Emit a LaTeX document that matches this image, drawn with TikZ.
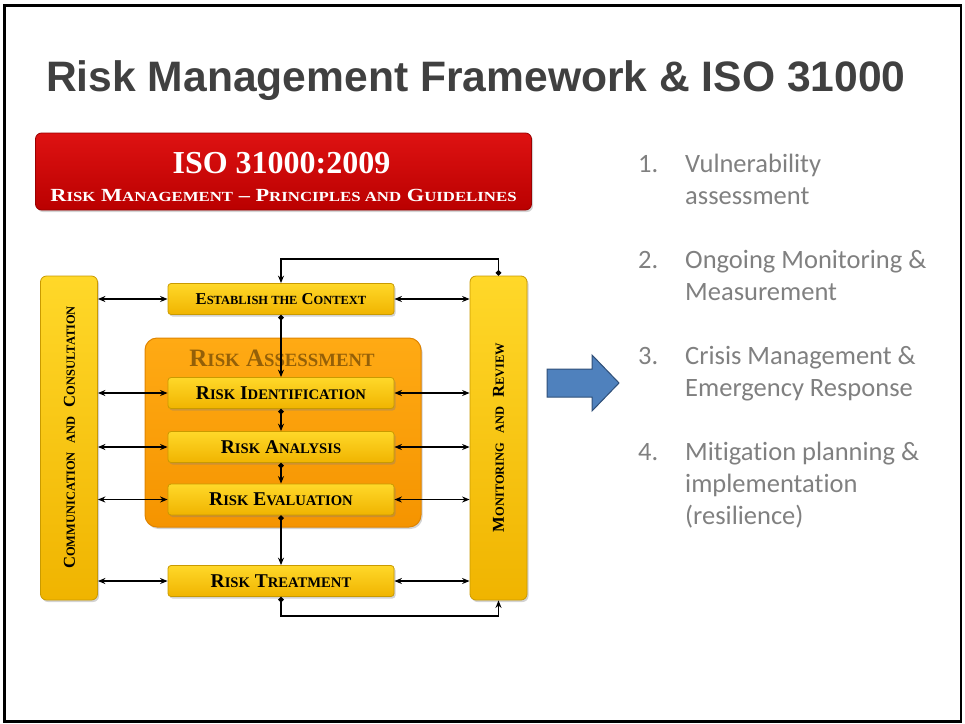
\documentclass[tikz,border=0pt]{standalone}
\usepackage{fontspec}
\usepackage{graphicx}
\setmainfont{Liberation Serif}
\newfontfamily\titlefont{Liberation Sans}
\newfontfamily\listfont[Ligatures=NoCommon]{Carlito}
\usetikzlibrary{shadows,arrows.meta}
\makeatletter
\newcommand\smc[1]{{\fontsize{\fpeval{0.75*\f@size}}{0}\selectfont #1}}
\makeatother
\definecolor{titlegray}{HTML}{404040}
\definecolor{listgray}{HTML}{808080}
\definecolor{ylight}{HTML}{FFD829}
\definecolor{ydark}{HTML}{F0B400}
\definecolor{yborder}{HTML}{C99A00}
\definecolor{olight}{HTML}{FFAA14}
\definecolor{odark}{HTML}{F59400}
\definecolor{oborder}{HTML}{E08400}
\definecolor{rlight}{HTML}{DE1212}
\definecolor{rdark}{HTML}{BA0000}
\definecolor{rborder}{HTML}{9A0000}
\definecolor{ratext}{HTML}{946008}
\definecolor{arrowblue}{HTML}{4F81BD}
\definecolor{arrowedge}{HTML}{2F4F78}
\begin{document}
\begin{tikzpicture}[x=1pt,y=-1pt,
  shadowed/.style={drop shadow={shadow xshift=1.5pt, shadow yshift=-2pt, opacity=0.35}},
  ybox/.style={draw=yborder, line width=0.8pt, rounded corners=3pt, top color=ylight, bottom color=ydark, shadowed,
    font=\bfseries\fontsize{19.5}{20}\selectfont, inner sep=0pt, minimum width=226pt, minimum height=31pt},
  ycol/.style={draw=yborder, line width=0.8pt, rounded corners=6pt, top color=ylight, bottom color=ydark, shadowed,
    inner sep=0pt, minimum width=57pt, minimum height=324pt},
  obox/.style={draw=oborder, line width=1pt, rounded corners=12pt, top color=olight, bottom color=odark, shadowed,
    inner sep=0pt, minimum width=276pt, minimum height=189pt},
  banner/.style={draw=rborder, line width=0.8pt, rounded corners=6pt, top color=rlight, bottom color=rdark, shadowed,
    inner sep=0pt, minimum width=496pt, minimum height=77pt},
  collabel/.style={rotate=90, font=\bfseries\fontsize{16.6}{17}\selectfont, inner sep=0pt},
  biarrow/.style={{Stealth[length=7.5pt,width=6pt]}-{Stealth[length=7.5pt,width=6pt]}, line width=1.6pt},
  flow/.style={{Circle[length=5.5pt]}-{Stealth[length=7.5pt,width=6pt]}, line width=1.6pt},
  listnum/.style={anchor=base west, inner sep=0pt, text=listgray, font=\listfont\fontsize{26.5}{32}\selectfont},
  listtxt/.style={listnum}
]
\useasboundingbox (0,0) rectangle (965,723);
\draw[line width=2.5pt] (4.5,5.5) rectangle (961,721.5);

% title
\node[anchor=base west, inner sep=0pt, text=titlegray, font=\titlefont\bfseries\fontsize{42.6}{50}\selectfont] (title) at (46,91) {Risk Management Framework \& ISO 31000};

% red banner
\node[banner] (ban) at (283.5,171.5) {};
\node[anchor=base, inner sep=0pt, text=white, font=\bfseries\fontsize{32}{32}\selectfont] (isot) at (281.5,173) {ISO 31000:2009};
\node[anchor=base, inner sep=0pt, text=white, font=\bfseries\fontsize{18.5}{18.5}\selectfont] (sub) at (283.5,201) {\scalebox{1.21}[1]{R\smc{ISK} M\smc{ANAGEMENT} -- P\smc{RINCIPLES AND} G\smc{UIDELINES}}};

% columns
\node[ycol] (comm) at (69,438) {};
\node[ycol] (mon) at (498.5,438) {};
\node[collabel] (commlbl) at (69.5,437.5) {C\smc{OMMUNICATION}\hspace{9pt}\smc{AND}\hspace{9pt}C\smc{ONSULTATION}};
\node[collabel] (monlbl) at (498.5,437.5) {M\smc{ONITORING}\hspace{9pt}\smc{AND}\hspace{9pt}R\smc{EVIEW}};

% risk assessment
\node[obox] (ra) at (283,432.5) {};
\node[anchor=base, inner sep=0pt, text=ratext, font=\bfseries\fontsize{25}{25}\selectfont] (ralbl) at (282,366) {R\smc{ISK} A\smc{SSESSMENT}};

% process boxes
\node[ybox, font=\bfseries\fontsize{16.6}{17}\selectfont] (ctx) at (281,299) {E\smc{STABLISH THE} C\smc{ONTEXT}};
\node[ybox] (rid) at (281,393) {R\smc{ISK} I\smc{DENTIFICATION}};
\node[ybox] (ran) at (281,447) {R\smc{ISK} A\smc{NALYSIS}};
\node[ybox] (rev) at (281,499.5) {R\smc{ISK} E\smc{VALUATION}};
\node[ybox] (rtr) at (281,581) {R\smc{ISK} T\smc{REATMENT}};

% horizontal two-way arrows
\foreach \b in {ctx,rid,ran,rev,rtr}{
  \draw[biarrow] (comm.east |- \b.west) -- (\b.west);
  \draw[biarrow] (\b.east) -- (mon.west |- \b.east);
}

% vertical flow
\draw[flow] (ctx.south) -- (rid.north);
\draw[flow] (rid.south) -- (ran.north);
\draw[flow] (ran.south) -- (rev.north);
\draw[flow] (rev.south) -- (rtr.north);

\coordinate (topc) at (390,259);
\coordinate (botc) at (390,616);
\draw[flow] (mon.north) |- (topc) -| (ctx.north);
\draw[flow] (rtr.south) |- (botc) -| (mon.south);

% blue arrow
\draw[fill=arrowblue, draw=arrowedge, line width=1pt] (547,369) -- (592,369) -- (592,355) -- (619,383) -- (592,411) -- (592,397) -- (547,397) -- cycle;

% list
\node[listnum] (n1) at (638,172) {1.};
\node[listtxt] (t1a) at (685,172) {Vulnerability};
\node[listtxt] (t1b) at (685,204) {assessment};
\node[listnum] (n2) at (638,268) {2.};
\node[listtxt] (t2a) at (685,268) {Ongoing Monitoring \&};
\node[listtxt] (t2b) at (685,300) {Measurement};
\node[listnum] (n3) at (638,364) {3.};
\node[listtxt] (t3a) at (685,364) {Crisis Management \&};
\node[listtxt] (t3b) at (685,396) {Emergency Response};
\node[listnum] (n4) at (638,460) {4.};
\node[listtxt] (t4a) at (685,460) {Mitigation planning \&};
\node[listtxt] (t4b) at (685,492) {implementation};
\node[listtxt] (t4c) at (685,524) {(resilience)};
\end{tikzpicture}
\end{document}
